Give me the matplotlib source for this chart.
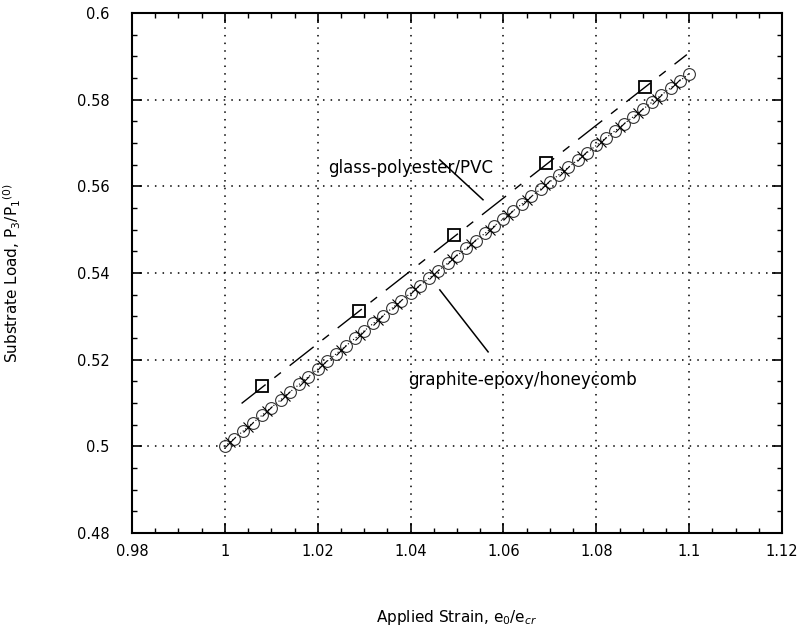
import matplotlib
matplotlib.use("Agg")
import matplotlib.pyplot as plt
from matplotlib.ticker import MultipleLocator

plt.rcParams['font.family'] = ['DejaVu Sans']
plt.rcParams['mathtext.fontset'] = 'dejavusans'

# graphite-epoxy/honeycomb (circles)
strain_ge = [1.000, 1.002, 1.004, 1.006, 1.008, 1.010, 1.012, 1.014, 1.016, 1.018,
             1.020, 1.022, 1.024, 1.026, 1.028, 1.030, 1.032, 1.034, 1.036, 1.038,
             1.040, 1.042, 1.044, 1.046, 1.048, 1.050, 1.052, 1.054, 1.056, 1.058,
             1.060, 1.062, 1.064, 1.066, 1.068, 1.070, 1.072, 1.074, 1.076, 1.078,
             1.080, 1.082, 1.084, 1.086, 1.088, 1.090, 1.092, 1.094, 1.096, 1.098,
             1.100]
load_ge = [0.50000, 0.50180, 0.50359, 0.50539, 0.50717, 0.50896, 0.51074, 0.51252,
           0.51430, 0.51607, 0.51784, 0.51961, 0.52137, 0.52313, 0.52489, 0.52664,
           0.52839, 0.53014, 0.53188, 0.53362, 0.53536, 0.53709, 0.53882, 0.54055,
           0.54228, 0.54400, 0.54572, 0.54743, 0.54915, 0.55085, 0.55256, 0.55426,
           0.55596, 0.55766, 0.55935, 0.56104, 0.56273, 0.56441, 0.56609, 0.56777,
           0.56944, 0.57111, 0.57278, 0.57444, 0.57610, 0.57776, 0.57941, 0.58107,
           0.58271, 0.58436, 0.58600]

# graphite-epoxy/honeycomb (x markers)
strain_ge_x = [1.001, 1.005, 1.009, 1.013, 1.017, 1.021, 1.025, 1.029, 1.033, 1.037,
               1.041, 1.045, 1.049, 1.053, 1.057, 1.061, 1.065, 1.069, 1.073, 1.077,
               1.081, 1.085, 1.089, 1.093, 1.097]
load_ge_x = [0.50090, 0.50449, 0.50807, 0.51163, 0.51518, 0.51872, 0.52225, 0.52576,
             0.52926, 0.53275, 0.53623, 0.53969, 0.54314, 0.54658, 0.55000, 0.55341,
             0.55681, 0.56020, 0.56357, 0.56693, 0.57028, 0.57361, 0.57693, 0.58024,
             0.58354]

# glass-polyester/PVC (dashed line)
strain_gp_line = [1.0036, 1.020, 1.040, 1.060, 1.080, 1.0995]
load_gp_line = [0.5099, 0.5237, 0.5405, 0.5573, 0.5741, 0.5904]

# glass-polyester/PVC (squares)
strain_gp_sq = [1.0079, 1.0289, 1.0493, 1.0692, 1.0905]
load_gp_sq = [0.5140, 0.5313, 0.5487, 0.5655, 0.5829]

xticks = [0.98, 1.0, 1.02, 1.04, 1.06, 1.08, 1.1, 1.12]
xticklabels = ['0.98', '1', '1.02', '1.04', '1.06', '1.08', '1.1', '1.12']
yticks = [0.48, 0.5, 0.52, 0.54, 0.56, 0.58, 0.6]
yticklabels = ['0.48', '0.5', '0.52', '0.54', '0.56', '0.58', '0.6']

fig = plt.figure(figsize=(8.01, 6.31), dpi=100)
ax = fig.add_axes([0.1648, 0.1553, 0.8115, 0.8241])

ax.plot(strain_ge, load_ge, linestyle=(0, (1, 2)), color='black', lw=0.8,
        marker='o', markersize=8.5, markerfacecolor='none', markeredgecolor='#333333',
        markeredgewidth=0.8, zorder=3)
ax.plot(strain_ge_x, load_ge_x, linestyle='none', color='black',
        marker='x', markersize=6.5, markeredgewidth=0.8, zorder=3)
ax.plot(strain_gp_line, load_gp_line, color='black', lw=1.0,
        linestyle=(0, (22, 8, 6, 8)), zorder=3)
ax.plot(strain_gp_sq, load_gp_sq, linestyle='none', marker='s', markersize=8.5,
        markerfacecolor='none', markeredgecolor='black', markeredgewidth=1.3, zorder=4)

# annotations
ax.text(1.0401, 0.5642, 'glass-polyester/PVC', fontsize=12, ha='center', va='center')
ax.plot([1.0463, 1.0556], [0.5661, 0.5569], color='black', lw=1.1)
ax.text(1.064, 0.5153, 'graphite-epoxy/honeycomb', fontsize=12, ha='center', va='center')
ax.plot([1.0463, 1.0567], [0.5361, 0.5218], color='black', lw=1.1)

ax.set_xlim(0.98, 1.12)
ax.set_ylim(0.48, 0.6)
ax.set_xticks(xticks)
ax.set_xticklabels(xticklabels)
ax.set_yticks(yticks)
ax.set_yticklabels(yticklabels)
ax.xaxis.set_minor_locator(MultipleLocator(0.005))
ax.yaxis.set_minor_locator(MultipleLocator(0.005))
ax.tick_params(which='both', direction='in', top=True, right=True, colors='black')
ax.tick_params(which='major', length=7, width=1.2, labelsize=10.5)
ax.tick_params(which='minor', length=3.5, width=1.0)
ax.tick_params(axis='x', which='major', pad=8)
ax.tick_params(axis='y', which='major', pad=16)

ax.grid(True, which='major', color='black', linestyle=(0, (1, 4)), lw=1.1)
for s in ax.spines.values():
    s.set_linewidth(1.5)

ax.set_xlabel('Applied Strain, e$_0$/e$_{cr}$', fontsize=11)
ax.set_ylabel('Substrate Load, P$_3$/P$_1$$^{(0)}$', fontsize=11)
ax.xaxis.set_label_coords(0.5, -0.145)
ax.yaxis.set_label_coords(-0.168, 0.5)

fig.savefig('out.png', dpi=100)
